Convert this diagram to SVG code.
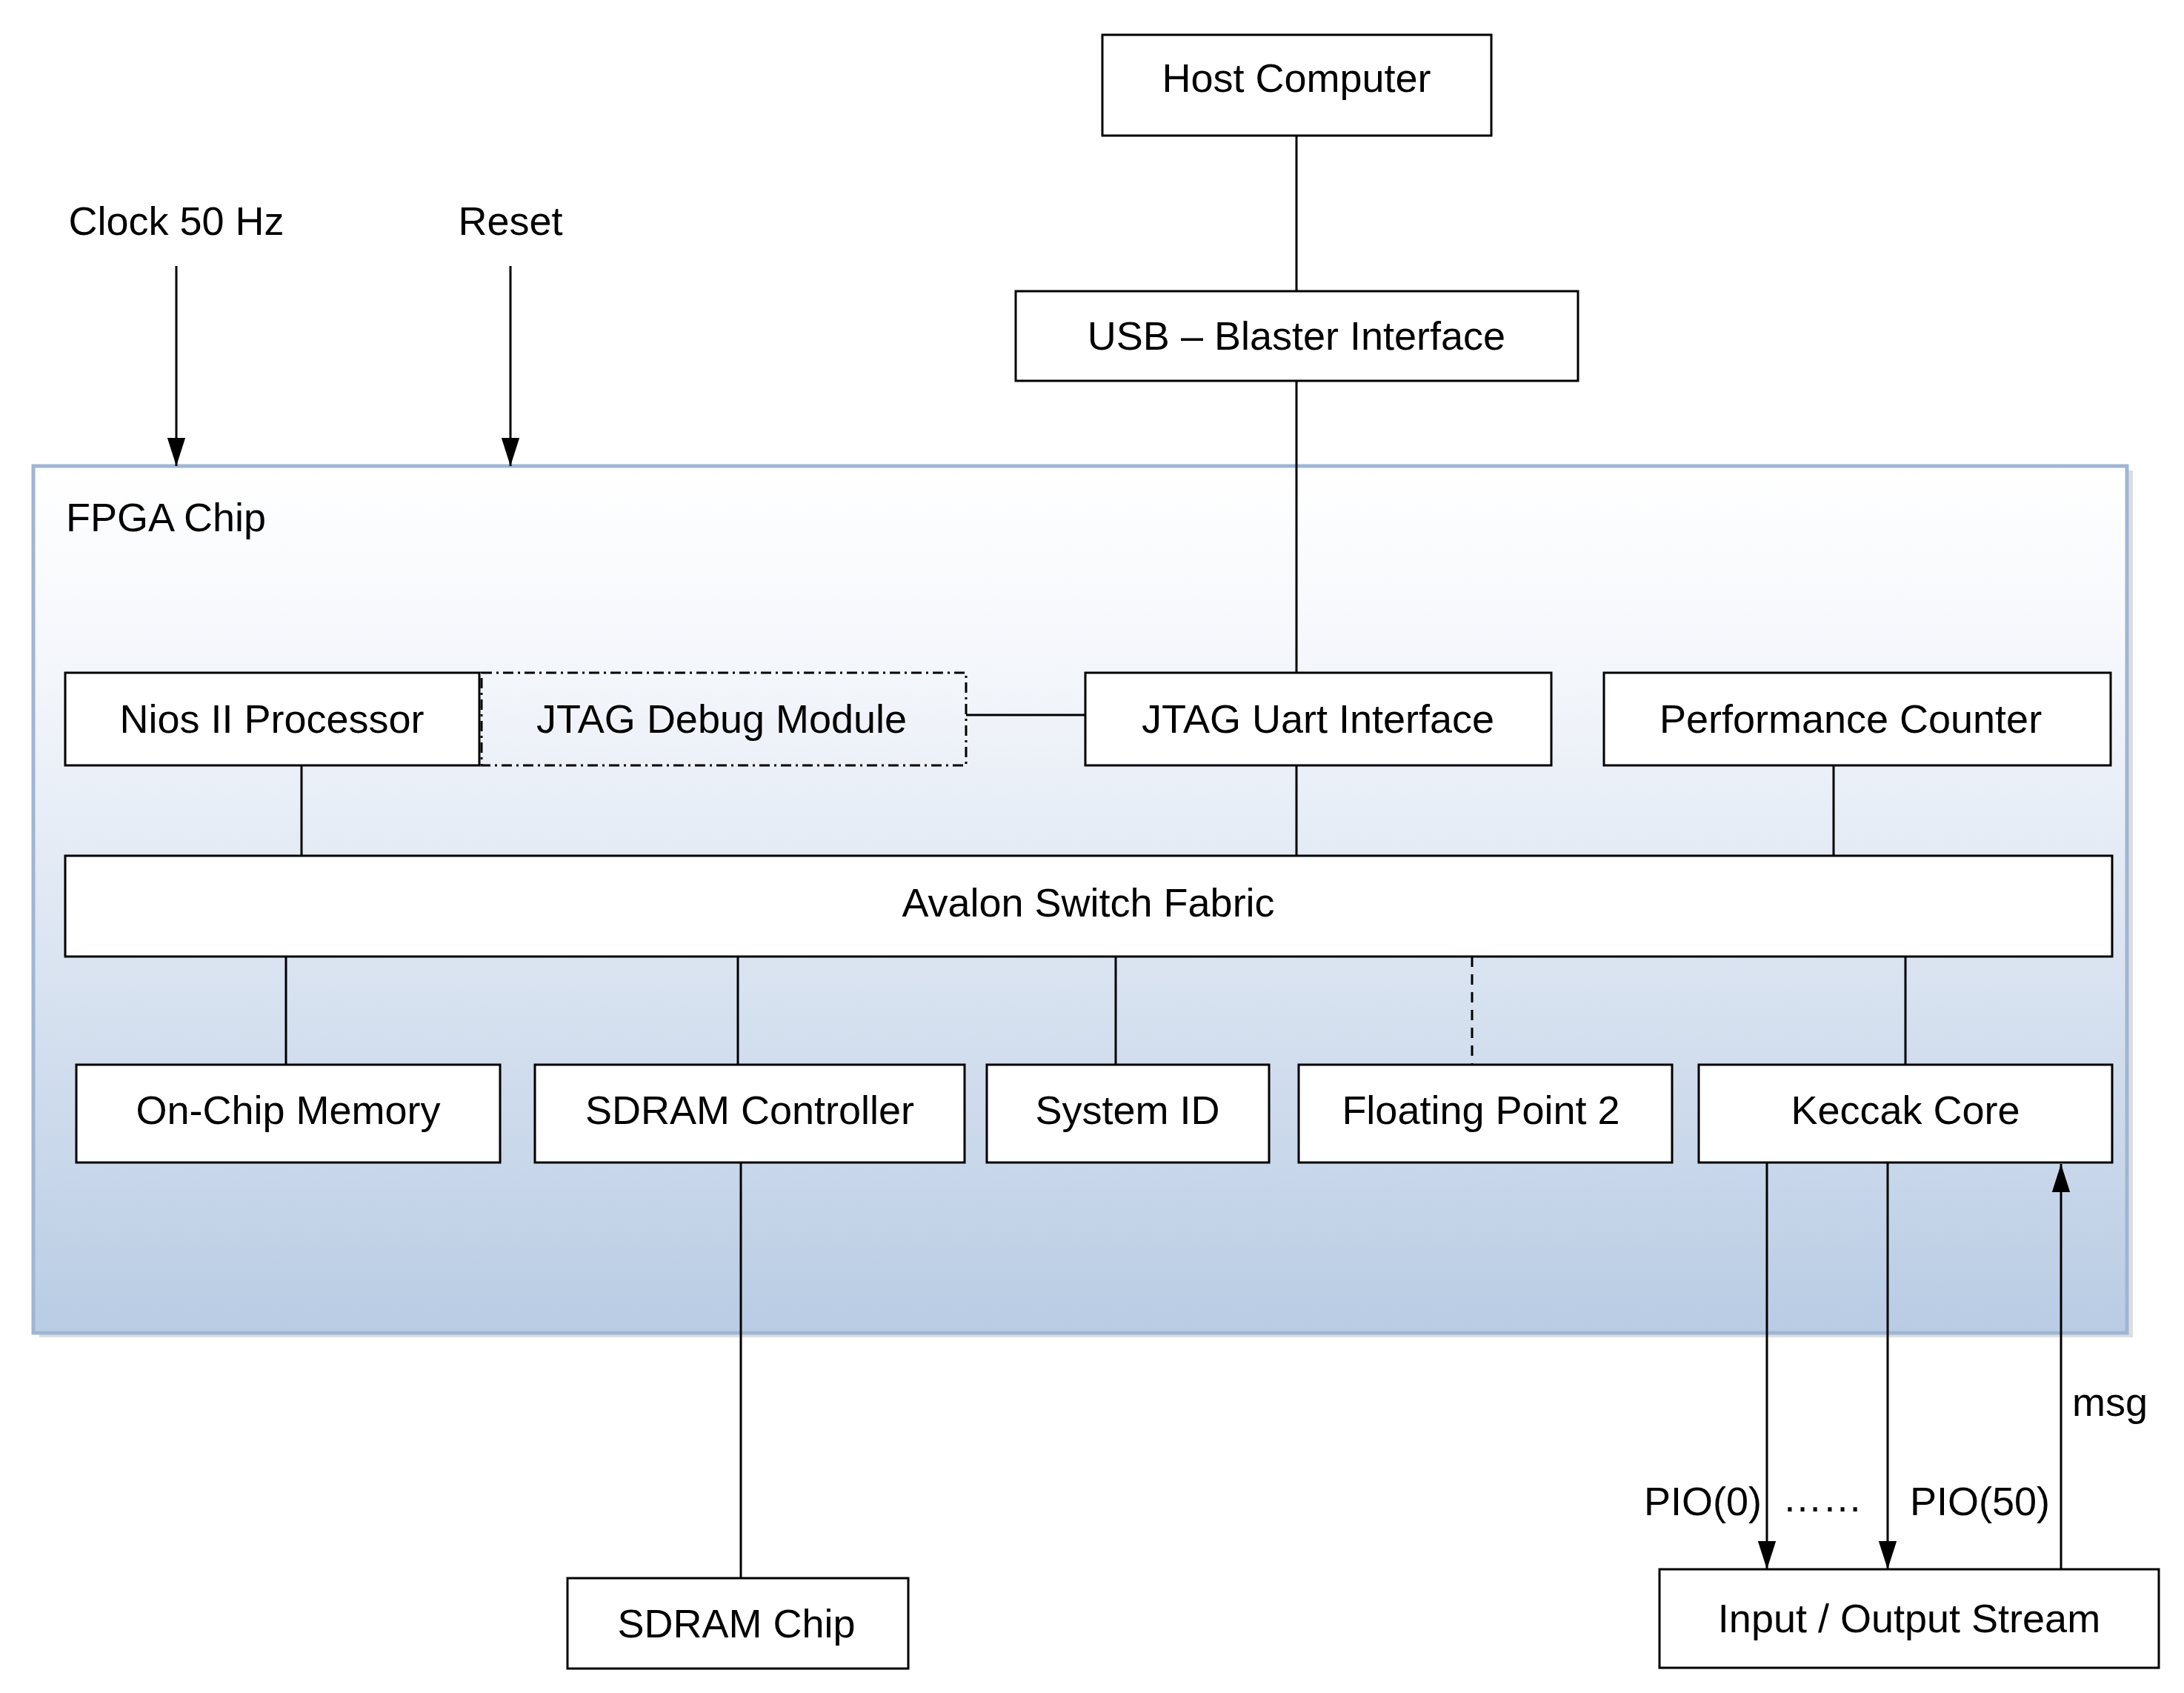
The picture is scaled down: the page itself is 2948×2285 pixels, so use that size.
<svg xmlns="http://www.w3.org/2000/svg" width="2948" height="2285" viewBox="0 0 2948 2285">
<defs>
<linearGradient id="g" x1="0" y1="0" x2="0" y2="1"><stop offset="0" stop-color="#ffffff"/><stop offset="0.25" stop-color="#f3f6fb"/><stop offset="1" stop-color="#b9cce4"/></linearGradient>
<marker id="ar" viewBox="0 0 10 10" refX="10" refY="5" markerWidth="38" markerHeight="38" markerUnits="userSpaceOnUse" orient="auto"><path d="M0,1.8L10,5L0,8.2z" fill="#000"/></marker>
<style>
.b{fill:#fff;stroke:#000;stroke-width:3}
.t{font-family:"Liberation Sans",Arial,sans-serif;font-size:54px;fill:#000}
.m{text-anchor:middle}
.l{stroke:#000;stroke-width:3;fill:none}
</style>
</defs>
<rect width="2948" height="2285" fill="#fff"/>
<g id="fpga">
<rect x="53" y="635" width="2826" height="1170" fill="#c8c8c8" opacity="0.6"/>
<rect x="45" y="629" width="2826" height="1170" fill="url(#g)" stroke="#9fb6d4" stroke-width="5"/>
<text class="t" x="89" y="717">FPGA Chip</text>
</g>
<g id="host"><rect class="b" x="1488" y="47" width="525" height="136"/><text class="t m" x="1750" y="124">Host Computer</text></g>
<g id="usb"><rect class="b" x="1371" y="393" width="759" height="121"/><text class="t m" x="1750" y="472">USB – Blaster Interface</text></g>
<g id="clock"><text class="t m" x="238" y="317">Clock 50 Hz</text></g>
<g id="reset"><text class="t m" x="689" y="317">Reset</text></g>
<g id="nios"><rect class="b" x="88" y="908" width="559" height="125"/><text class="t m" x="367" y="989">Nios II Processor</text></g>
<g id="debug"><rect x="650" y="908" width="654" height="125" fill="none" stroke="#000" stroke-width="3" stroke-dasharray="14,6,3,6"/><text class="t m" x="974" y="989">JTAG Debug Module</text></g>
<g id="uart"><rect class="b" x="1465" y="908" width="629" height="125"/><text class="t m" x="1779" y="989">JTAG Uart Interface</text></g>
<g id="perf"><rect class="b" x="2165" y="908" width="684" height="125"/><text class="t m" x="2498" y="989">Performance Counter</text></g>
<g id="avalon"><rect class="b" x="88" y="1155" width="2763" height="136"/><text class="t m" x="1469" y="1237">Avalon Switch Fabric</text></g>
<g id="onchip"><rect class="b" x="103" y="1437" width="572" height="132"/><text class="t m" x="389" y="1517">On-Chip Memory</text></g>
<g id="sdramc"><rect class="b" x="722" y="1437" width="580" height="132"/><text class="t m" x="1012" y="1517">SDRAM Controller</text></g>
<g id="sysid"><rect class="b" x="1332" y="1437" width="381" height="132"/><text class="t m" x="1522" y="1517">System ID</text></g>
<g id="fp2"><rect class="b" x="1753" y="1437" width="504" height="132"/><text class="t m" x="1999" y="1517">Floating Point 2</text></g>
<g id="keccak"><rect class="b" x="2293" y="1437" width="558" height="132"/><text class="t m" x="2572" y="1517">Keccak Core</text></g>
<g id="sdramchip"><rect class="b" x="766" y="2130" width="460" height="122"/><text class="t m" x="994" y="2210">SDRAM Chip</text></g>
<g id="io"><rect class="b" x="2240" y="2118" width="674" height="133"/><text class="t m" x="2577" y="2203">Input / Output Stream</text></g>
<g id="connectors">
<line class="l" x1="238" y1="359" x2="238" y2="629" marker-end="url(#ar)"/>
<line class="l" x1="689" y1="359" x2="689" y2="629" marker-end="url(#ar)"/>
<line class="l" x1="1750" y1="183" x2="1750" y2="393" stroke="#555"/>
<line class="l" x1="1750" y1="514" x2="1750" y2="908" stroke="#555"/>
<line class="l" x1="1304" y1="965" x2="1465" y2="965"/>
<line class="l" x1="407" y1="1033" x2="407" y2="1155"/>
<line class="l" x1="1750" y1="1033" x2="1750" y2="1155"/>
<line class="l" x1="2475" y1="1033" x2="2475" y2="1155"/>
<line class="l" x1="386" y1="1291" x2="386" y2="1437"/>
<line class="l" x1="996" y1="1291" x2="996" y2="1437"/>
<line class="l" x1="1506" y1="1291" x2="1506" y2="1437"/>
<line class="l" x1="1987" y1="1291" x2="1987" y2="1437" stroke-dasharray="14,10"/>
<line class="l" x1="2572" y1="1291" x2="2572" y2="1437"/>
<line class="l" x1="1000" y1="1569" x2="1000" y2="2130"/>
<line class="l" x1="2385" y1="1569" x2="2385" y2="2118" marker-end="url(#ar)"/>
<line class="l" x1="2548" y1="1569" x2="2548" y2="2118" marker-end="url(#ar)"/>
<line class="l" x1="2782" y1="2118" x2="2782" y2="1571" marker-end="url(#ar)"/>
<text class="t" x="2378" y="2045" text-anchor="end">PIO(0)</text>
<text class="t m" x="2460" y="2040">……</text>
<text class="t" x="2578" y="2045">PIO(50)</text>
<text class="t" x="2797" y="1911">msg</text>
</g>
</svg>
